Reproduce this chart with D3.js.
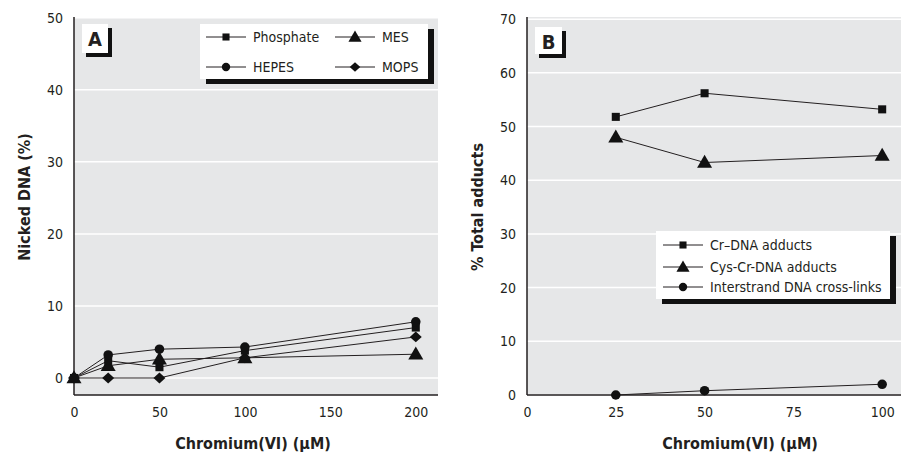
<!DOCTYPE html>
<html lang="en">
<head>
<meta charset="UTF-8">
<title>Chromium(VI) DNA damage</title>
<script src="https://cdnjs.cloudflare.com/ajax/libs/d3/7.8.5/d3.min.js"></script>
<style>
  body { margin: 0; background: #fff; }
  svg { display: block; }
  .tick text { font-family: "Liberation Sans Narrow", "DejaVu Sans Condensed", "Arial Narrow", sans-serif; font-size: 14px; fill: #231f20; }
  .title { font-family: "Liberation Sans Narrow", "DejaVu Sans Condensed", sans-serif; font-weight: bold; font-size: 16px; fill: #231f20; }
  .leg { font-family: "Liberation Sans Narrow", "DejaVu Sans Condensed", sans-serif; font-size: 14px; fill: #231f20; }
  .panel { font-family: "Liberation Sans Narrow", "DejaVu Sans Condensed", sans-serif; font-weight: bold; font-size: 20px; fill: #231f20; }
</style>
</head>
<body>
<div id="chart"></div>
<script>
// panel A: nicked DNA vs Cr(VI) in four buffers
const doseA = [0, 20, 50, 100, 200];
const phosphate = [0, 2.4, 1.5, 3.8, 7.0];
const hepes = [0, 3.2, 4.0, 4.3, 7.8];
const mes = [0, 1.7, 2.6, 2.8, 3.3];
const mops = [0, 0, 0, 2.8, 5.7];
const ticksXA = [0, 50, 100, 150, 200];
const ticksYA = [0, 10, 20, 30, 40, 50];

// panel B: adduct distribution
const doseB = [25, 50, 100];
const crDna = [51.8, 56.2, 53.2];
const cysCrDna = [48.0, 43.3, 44.6];
const crossLinks = [0, 0.8, 2.0];
const ticksXB = [0, 25, 50, 75, 100];
const ticksYB = [0, 10, 20, 30, 40, 50, 60, 70];

const W = 901, H = 452;
const svg = d3.select("#chart").append("svg").attr("width", W).attr("height", H);

// rotated square, a bit wider than d3's diamond
const wideDiamond = {
  draw(ctx, size) {
    const r = Math.sqrt(size / 2) * 1.05;
    const h = r * 0.9;
    ctx.moveTo(0, -h); ctx.lineTo(r, 0); ctx.lineTo(0, h); ctx.lineTo(-r, 0); ctx.closePath();
  }
};
const symbols = {
  square: d3.symbolSquare,
  circle: d3.symbolCircle,
  triangle: d3.symbolTriangle,
  diamond: wideDiamond
};
const symSize = { square: 50, circle: 55, triangle: 75, diamond: 50 };

function marker(g, shape, x, y, scale) {
  const s = scale || 1;
  g.append("path")
    .attr("d", d3.symbol().type(symbols[shape]).size(symSize[shape] * s)())
    .attr("transform", `translate(${x},${y + (shape === "triangle" ? 1 : 0)})`)
    .attr("fill", "#111");
}

function panel(opt) {
  const g = svg.append("g");
  const x = d3.scaleLinear().domain(opt.xDomain).range([opt.left, opt.right]);
  const y = d3.scaleLinear().domain(opt.yDomain).range([opt.bottom, opt.top]);

  g.append("rect")
    .attr("x", opt.left).attr("y", opt.top)
    .attr("width", opt.right - opt.left).attr("height", opt.bottom - opt.top)
    .attr("fill", "#e6e7e8");

  // white gridlines
  g.selectAll(".grid").data(opt.yTicks).join("line")
    .attr("x1", opt.left).attr("x2", opt.right)
    .attr("y1", d => y(d)).attr("y2", d => y(d))
    .attr("stroke", "#fff").attr("stroke-width", 1.5);

  const ax = g.append("g").attr("transform", `translate(0,${opt.bottom})`)
    .call(d3.axisBottom(x).tickValues(opt.xTicks).tickSize(0).tickPadding(12));
  ax.select(".domain").remove();
  const ay = g.append("g").attr("transform", `translate(${opt.left},0)`)
    .call(d3.axisLeft(y).tickValues(opt.yTicks).tickSize(0).tickPadding(11));
  ay.select(".domain").remove();

  g.append("line").attr("x1", opt.left).attr("x2", opt.right)
    .attr("y1", opt.bottom).attr("y2", opt.bottom)
    .attr("stroke", "#231f20").attr("stroke-width", 1.5);
  g.append("line").attr("x1", opt.left).attr("x2", opt.left)
    .attr("y1", opt.top).attr("y2", opt.bottom)
    .attr("stroke", "#231f20").attr("stroke-width", 1.5);

  const line = d3.line().x(d => x(d[0])).y(d => y(d[1]));
  opt.series.forEach(s => {
    const pts = opt.dose.map((d, i) => [d, s.values[i]]);
    g.append("path").datum(pts).attr("d", line)
      .attr("fill", "none").attr("stroke", "#231f20").attr("stroke-width", 1);
  });
  opt.series.forEach(s => {
    opt.dose.forEach((d, i) => marker(g, s.shape, x(d), y(s.values[i]), 1.3));
  });

  // panel letter box
  const lb = opt.letterBox;
  g.append("rect").attr("x", lb[0] + 4).attr("y", lb[1] + 4).attr("width", lb[2]).attr("height", lb[3]).attr("fill", "#111");
  g.append("rect").attr("x", lb[0]).attr("y", lb[1]).attr("width", lb[2]).attr("height", lb[3]).attr("fill", "#fff");
  g.append("text").attr("class", "panel").attr("x", lb[0] + lb[2] / 2).attr("y", lb[1] + 22)
    .attr("text-anchor", "middle").text(opt.letter);

  // legend
  const L = opt.legend;
  g.append("rect").attr("x", L.x + 6).attr("y", L.y + 5).attr("width", L.w).attr("height", L.h).attr("fill", "#111");
  g.append("rect").attr("x", L.x).attr("y", L.y).attr("width", L.w).attr("height", L.h).attr("fill", "#fff");
  L.items.forEach(it => {
    g.append("line").attr("x1", it.x).attr("x2", it.x + 40).attr("y1", it.y).attr("y2", it.y)
      .attr("stroke", "#231f20").attr("stroke-width", 1);
    marker(g, it.shape, it.x + 20, it.y, 1);
    g.append("text").attr("class", "leg").attr("x", it.x + 47).attr("y", it.y + 5).text(it.label);
  });

  g.append("text").attr("class", "title")
    .attr("x", opt.xTitle[0]).attr("y", opt.xTitle[1]).attr("text-anchor", "middle")
    .text("Chromium(VI) (\u03bcM)");
  g.append("text").attr("class", "title")
    .attr("transform", `translate(${opt.yTitle[0]},${opt.yTitle[1]}) rotate(-90)`)
    .attr("text-anchor", "middle").text(opt.yLabel);
}

panel({
  left: 74, right: 438, top: 17, bottom: 395,
  xDomain: [0, 213], yDomain: [-2.36, 50.1],
  xTicks: ticksXA, yTicks: ticksYA,
  dose: doseA,
  series: [
    { values: mops, shape: "diamond" },
    { values: mes, shape: "triangle" },
    { values: phosphate, shape: "square" },
    { values: hepes, shape: "circle" }
  ],
  letter: "A", letterBox: [82, 24, 26, 29],
  legend: {
    x: 200, y: 24, w: 228, h: 55,
    items: [
      { x: 206, y: 37, shape: "square", label: "Phosphate" },
      { x: 335, y: 37, shape: "triangle", label: "MES" },
      { x: 206, y: 67, shape: "circle", label: "HEPES" },
      { x: 335, y: 67, shape: "diamond", label: "MOPS" }
    ]
  },
  xTitle: [253, 449], yTitle: [30, 197], yLabel: "Nicked DNA (%)"
});

panel({
  left: 527, right: 901, top: 17, bottom: 395,
  xDomain: [0, 105.3], yDomain: [0, 70.4],
  xTicks: ticksXB, yTicks: ticksYB,
  dose: doseB,
  series: [
    { values: crDna, shape: "square" },
    { values: cysCrDna, shape: "triangle" },
    { values: crossLinks, shape: "circle" }
  ],
  letter: "B", letterBox: [535, 27, 27, 27],
  legend: {
    x: 656, y: 231, w: 234, h: 68,
    items: [
      { x: 663, y: 245, shape: "square", label: "Cr\u2013DNA adducts" },
      { x: 663, y: 267, shape: "triangle", label: "Cys-Cr-DNA adducts" },
      { x: 663, y: 287, shape: "circle", label: "Interstrand DNA cross-links" }
    ]
  },
  xTitle: [740, 449], yTitle: [483, 207], yLabel: "% Total adducts"
});
</script>
</body>
</html>
